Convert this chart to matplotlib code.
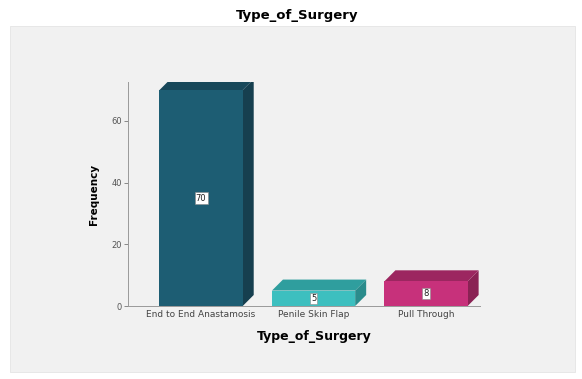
import matplotlib.pyplot as plt
import matplotlib.patches as patches

# datos
categorias = ['End to End Anastamosis', 'Penile Skin Flap', 'Pull Through']
frecuencias = [70, 5, 8]
colores_frente = ['#1d5d73', '#3dbfbf', '#c7317b']
colores_lado = ['#163f4f', '#2b8c8c', '#8a2254']
colores_tope = ['#18485a', '#2f9e9e', '#9c2660']

W, H = 582, 379
fig = plt.figure(figsize=(W / 100, H / 100), dpi=100)
fig.patch.set_facecolor('white')

# Panel gris de fondo
fondo = patches.Rectangle((10 / W, 1 - 372 / H), 565 / W, 346 / H,
                          transform=fig.transFigure, facecolor='#f1f1f1',
                          edgecolor='#e4e4e4', linewidth=0.6, zorder=-10)
fig.patches.append(fondo)

# Ejes en pixeles
x0, x1 = 128, 480
y0, ytop = 306, 82
ax = fig.add_axes([x0 / W, 1 - y0 / H, (x1 - x0) / W, (y0 - ytop) / H])
ax.set_facecolor('none')

xmin, xmax = -0.65, 2.48
ymax = 72.6
ax.set_xlim(xmin, xmax)
ax.set_ylim(0, ymax)

# profundidad del efecto 3D (en pixeles -> datos)
px_x = (xmax - xmin) / (x1 - x0)
px_y = ymax / (y0 - ytop)
dx = 11 * px_x
dy = 11 * px_y
ancho = 0.74

for i, (v, cf, cl, ct) in enumerate(zip(frecuencias, colores_frente, colores_lado, colores_tope)):
    izq = i - ancho / 2
    der = i + ancho / 2
    # cara lateral
    lado = patches.Polygon([(der, 0), (der + dx, dy), (der + dx, v + dy), (der, v)],
                           closed=True, facecolor=cl, edgecolor='none', zorder=2)
    ax.add_patch(lado)
    # cara superior
    tope = patches.Polygon([(izq, v), (izq + dx, v + dy), (der + dx, v + dy), (der, v)],
                           closed=True, facecolor=ct, edgecolor='none', zorder=2)
    ax.add_patch(tope)
    # frente
    frente = patches.Rectangle((izq, 0), ancho, v, facecolor=cf, edgecolor='none', zorder=3)
    ax.add_patch(frente)
    # etiqueta del valor
    ax.text(i, v / 2, str(v), ha='center', va='center', fontsize=6, color='#222222',
            zorder=5, bbox=dict(boxstyle='square,pad=0.15', facecolor='white',
                                edgecolor='#888888', linewidth=0.4))

ax.set_xticks(range(len(categorias)))
ax.set_xticklabels(categorias, fontsize=6.5, color='#444444')
ax.set_yticks([0, 20, 40, 60])
ax.tick_params(axis='y', labelsize=6, labelcolor='#555555', length=3, width=0.6, color='#777777', pad=1.5)
ax.tick_params(axis='x', direction='in', length=3, width=0.6, color='#777777', pad=3)

for s in ['top', 'right']:
    ax.spines[s].set_visible(False)
for s in ['left', 'bottom']:
    ax.spines[s].set_color('#9a9a9a')
    ax.spines[s].set_linewidth(0.7)

ax.set_xlabel('Type_of_Surgery', fontsize=9, fontweight='bold')
ax.xaxis.set_label_coords((314 - x0) / (x1 - x0), -24 / (y0 - ytop))
ax.set_ylabel('Frequency', fontsize=7.5, fontweight='bold', labelpad=9)

fig.text(297 / W, 1 - 15 / H, 'Type_of_Surgery', ha='center', va='center',
         fontsize=9.5, fontweight='bold')

plt.savefig('out.png', dpi=100)
